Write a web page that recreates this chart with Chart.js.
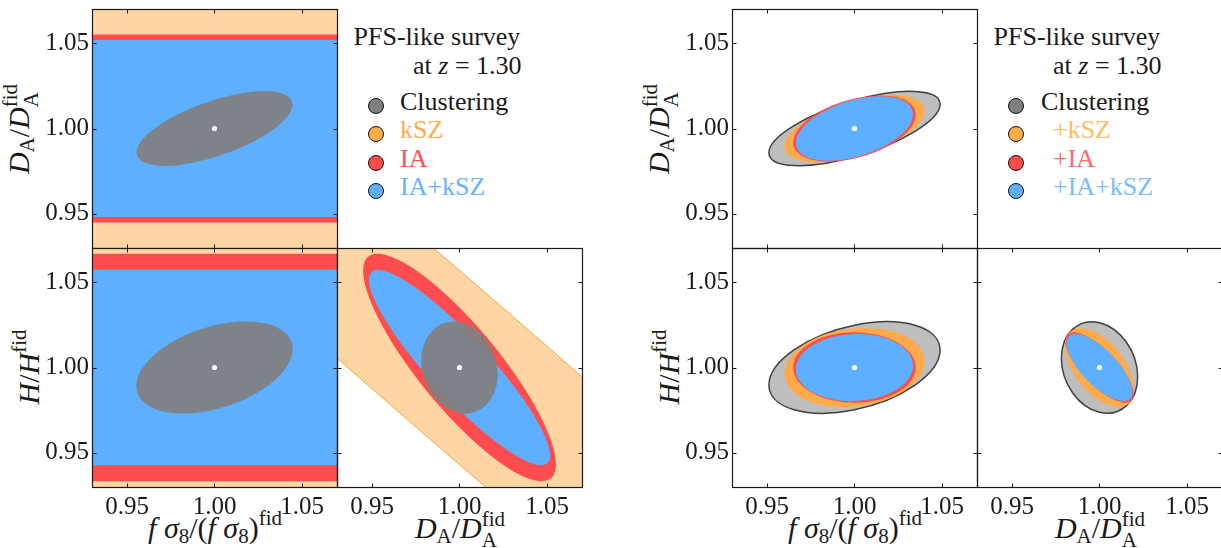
<!DOCTYPE html>
<html>
<head>
<meta charset="utf-8">
<script src="https://cdn.jsdelivr.net/npm/chart.js@4.4.1/dist/chart.umd.min.js"></script>
<style>
  html, body { margin: 0; padding: 0; background: #fff; }
  body { width: 1221px; height: 548px; position: relative; overflow: hidden;
         font-family: 'Liberation Serif', 'Times New Roman', 'DejaVu Serif', serif; color: #1a1a1a; }
  canvas { position: absolute; }
  .lbl { position: absolute; white-space: nowrap; font-size: 30px; line-height: 1; }
  .rot { transform: translate(-50%, -50%) rotate(-90deg); }
  .ctr { transform: translate(-50%, 0); }
  .sub { font-size: 0.7em; position: relative; top: 0.25em; }
  .sup { font-size: 0.7em; position: relative; top: -0.6em; }
  .ss  { display: inline-flex; flex-direction: column; font-size: 0.7em; line-height: 1;
         position: relative; top: -0.55em; }
  .leg { position: absolute; white-space: nowrap; font-size: 26px; line-height: 26px; }
  .dot { position: absolute; width: 16px; height: 16px; border-radius: 50%;
         border: 1px solid #111; box-sizing: border-box; }
</style>
</head>
<body>

<!-- axis titles -->
<div class="lbl rot" style="left:29px; top:129px"><i>D</i><span class="sub">A</span>/<i>D</i><span class="ss"><span>fid</span><span>A</span></span></div>
<div class="lbl rot" style="left:29px; top:367px"><i>H</i>/<i>H</i><span class="sup">fid</span></div>
<div class="lbl ctr" style="left:215px; top:513px"><i>f</i> <i>σ</i><span class="sub">8</span>/(<i>f</i> <i>σ</i><span class="sub">8</span>)<span class="sup">fid</span></div>
<div class="lbl ctr" style="left:460px; top:513px"><i>D</i><span class="sub">A</span>/<i>D</i><span class="ss"><span>fid</span><span>A</span></span></div>

<div class="lbl rot" style="left:669px; top:129px"><i>D</i><span class="sub">A</span>/<i>D</i><span class="ss"><span>fid</span><span>A</span></span></div>
<div class="lbl rot" style="left:669px; top:367px"><i>H</i>/<i>H</i><span class="sup">fid</span></div>
<div class="lbl ctr" style="left:855px; top:513px"><i>f</i> <i>σ</i><span class="sub">8</span>/(<i>f</i> <i>σ</i><span class="sub">8</span>)<span class="sup">fid</span></div>
<div class="lbl ctr" style="left:1100px; top:513px"><i>D</i><span class="sub">A</span>/<i>D</i><span class="ss"><span>fid</span><span>A</span></span></div>

<div id="legends"></div>

<script>
const AXIS_MIN = 0.93;
const AXIS_MAX = 1.07;
const TICK_VALUES = [0.95, 1.00, 1.05];
const TICK_LABELS = ['0.95', '1.00', '1.05'];
const FIDUCIAL = [1.0, 1.0];

// legend order
const LEFT_NAMES  = ['Clustering', 'kSZ', 'IA', 'IA+kSZ'];
const RIGHT_NAMES = ['Clustering', '+kSZ', '+IA', '+IA+kSZ'];

// 1-sigma contours, in legend order: [half-extent x, half-extent y, correlation]
const LEFT_FS8_DA  = [[0.0446, 0.0219, 0.64], [5, 0.5, 0],        [5, 0.0551, 0],       [5, 0.0518, 0]];
const LEFT_FS8_H   = [[0.0447, 0.0270, 0.40], [5, 0.445, 0],      [5, 0.0667, 0],       [5, 0.0572, 0]];
const LEFT_DA_H    = [[0.0219, 0.0270, -0.15], [0.5, 0.445, -0.9918], [0.0551, 0.0667, -0.85], [0.0518, 0.0572, -0.90]];
const RIGHT_FS8_DA = [[0.0489, 0.0218, 0.65], [0.0400, 0.0198, 0.53], [0.0350, 0.0194, 0.42], [0.0335, 0.0189, 0.44]];
const RIGHT_FS8_H  = [[0.0489, 0.0268, 0.38], [0.0400, 0.0232, 0.15], [0.0350, 0.0206, 0.00], [0.0335, 0.0197, 0.05]];
const RIGHT_DA_H   = [[0.0218, 0.0268, -0.20], [0.0198, 0.0231, -0.54], [0.0195, 0.0206, -0.75], [0.0189, 0.0197, -0.72]];

// drawing order (index into legend order)
const LEFT_ORDER  = [1, 2, 3, 0];
const RIGHT_ORDER = [0, 1, 2, 3];

const LEFT_STYLE = [
  { fill: 'rgba(128,128,128,0.93)' },
  { fill: '#fed6a4', stroke: '#f7a441', lw: 1 },
  { fill: '#ff4c4f' },
  { fill: '#5eafff' },
];
const RIGHT_STYLE = [
  { fill: '#bebebe', stroke: '#404040', lw: 1.5 },
  { fill: '#ffab4a' },
  { fill: '#ff4c4f' },
  { fill: '#5eafff' },
];
const LEFT_MARK  = ['#808080', '#ffad47', '#ff4b4b', '#5eb0ff'];
const LEFT_TEXT  = ['#1a1a1a', '#ffab4c', '#ff5050', '#66b3ff'];
const RIGHT_TEXT = ['#1a1a1a', '#ffbb66', '#ff6a6a', '#7abdff'];

const FONT = "'Liberation Serif', 'Times New Roman', 'DejaVu Serif', serif";
const PW = 245, PH = 239;   // plot area size
const M = 4, YW = 60, XH = 34;

const PANELS = [
  { px: 92,  py: 9,   data: LEFT_FS8_DA,  order: LEFT_ORDER,  style: LEFT_STYLE,  showX: false, showY: true  },
  { px: 92,  py: 248, data: LEFT_FS8_H,   order: LEFT_ORDER,  style: LEFT_STYLE,  showX: true,  showY: true  },
  { px: 337, py: 248, data: LEFT_DA_H,    order: LEFT_ORDER,  style: LEFT_STYLE,  showX: true,  showY: false },
  { px: 732, py: 9,   data: RIGHT_FS8_DA, order: RIGHT_ORDER, style: RIGHT_STYLE, showX: false, showY: true  },
  { px: 732, py: 248, data: RIGHT_FS8_H,  order: RIGHT_ORDER, style: RIGHT_STYLE, showX: true,  showY: true  },
  { px: 977, py: 248, data: RIGHT_DA_H,   order: RIGHT_ORDER, style: RIGHT_STYLE, showX: true,  showY: false },
];

const contourPlugin = {
  id: 'contours',
  beforeDatasetsDraw(chart, args, opts) {
    const { ctx, chartArea: a, scales: { x, y } } = chart;
    const cx = x.getPixelForValue(FIDUCIAL[0]);
    const cy = y.getPixelForValue(FIDUCIAL[1]);
    const kx = x.getPixelForValue(FIDUCIAL[0] + 1) - cx;
    const ky = y.getPixelForValue(FIDUCIAL[1] + 1) - cy;
    ctx.save();
    ctx.beginPath();
    ctx.rect(a.left, a.top, a.right - a.left, a.bottom - a.top);
    ctx.clip();
    opts.order.forEach(i => {
      const [sx, sy, rho] = opts.data[i];
      const st = opts.style[i];
      ctx.save();
      ctx.transform(kx * sx, ky * sy * rho, 0, ky * sy * Math.sqrt(1 - rho * rho), cx, cy);
      ctx.beginPath();
      ctx.arc(0, 0, 1, 0, Math.PI * 2);
      ctx.restore();
      ctx.fillStyle = st.fill;
      ctx.fill();
      if (st.stroke) {
        ctx.strokeStyle = st.stroke;
        ctx.lineWidth = st.lw;
        ctx.stroke();
      }
    });
    ctx.restore();
  }
};

const framePlugin = {
  id: 'frame',
  afterDatasetsDraw(chart) {
    const { ctx, chartArea: a, scales: { x, y } } = chart;
    const L = a.left + 0.5, R = a.right + 0.5, T = a.top + 0.5, B = a.bottom + 0.5;
    ctx.save();
    ctx.strokeStyle = '#1a1a1a';
    ctx.lineWidth = 1;
    ctx.beginPath();
    TICK_VALUES.forEach(v => {
      const px = Math.round(x.getPixelForValue(v)) + 0.5;
      const py = Math.round(y.getPixelForValue(v)) + 0.5;
      ctx.moveTo(px, B); ctx.lineTo(px, B - 4);
      ctx.moveTo(px, T); ctx.lineTo(px, T + 4);
      ctx.moveTo(L, py); ctx.lineTo(L + 4, py);
      ctx.moveTo(R, py); ctx.lineTo(R - 4, py);
    });
    ctx.stroke();
    ctx.lineWidth = 1.2;
    ctx.strokeRect(L, T, R - L, B - T);
    ctx.restore();
  }
};

function axis(show, horizontal) {
  return {
    type: 'linear',
    min: AXIS_MIN,
    max: AXIS_MAX,
    display: show,
    grid: { display: false, drawTicks: false },
    border: { display: false },
    afterBuildTicks: s => { s.ticks = TICK_VALUES.map(v => ({ value: v })); },
    afterFit: s => {
      s.paddingTop = 0; s.paddingBottom = 0; s.paddingLeft = 0; s.paddingRight = 0;
      if (!show) return;
      if (horizontal) s.height = XH; else s.width = YW;
    },
    ticks: {
      autoSkip: false,
      maxRotation: 0,
      padding: horizontal ? 5 : 3,
      color: '#1a1a1a',
      font: { family: FONT, size: 25 },
      callback: (v, i) => TICK_LABELS[i],
    },
  };
}

PANELS.forEach(p => {
  const c = document.createElement('canvas');
  const w = PW + 2 * M + (p.showY ? YW : 0);
  const h = PH + 2 * M + (p.showX ? XH : 0);
  c.width = w; c.height = h;
  c.style.left = (p.px - M - (p.showY ? YW : 0)) + 'px';
  c.style.top = (p.py - M) + 'px';
  c.style.width = w + 'px'; c.style.height = h + 'px';
  document.body.appendChild(c);

  new Chart(c, {
    type: 'scatter',
    data: {
      datasets: [{
        data: [{ x: FIDUCIAL[0], y: FIDUCIAL[1] }],
        pointRadius: 2.6,
        backgroundColor: '#ffffff',
        borderWidth: 0,
      }]
    },
    options: {
      responsive: false,
      animation: false,
      devicePixelRatio: 1,
      layout: { padding: M },
      scales: { x: axis(p.showX, true), y: axis(p.showY, false) },
      plugins: {
        legend: { display: false },
        tooltip: { enabled: false },
        contours: { data: p.data, order: p.order, style: p.style },
      }
    },
    plugins: [contourPlugin, framePlugin],
  });
});

// legends
function legend(left, names, textColors, textX) {
  const box = document.getElementById('legends');
  let html = `<div class="leg" style="left:${left + 16.5}px; top:24px">PFS-like survey</div>` +
             `<div class="leg" style="left:${left + 76}px; top:53px">at <i>z</i> = 1.30</div>`;
  names.forEach((n, i) => {
    const cyy = 106 + i * 28.3;
    html += `<div class="dot" style="left:${left + 39 - 8}px; top:${cyy - 8}px; background:${LEFT_MARK[i]}"></div>`;
    html += `<div class="leg" style="left:${left + textX[i]}px; top:${89 + i * 28.3}px; color:${textColors[i]}">${n}</div>`;
  });
  box.insertAdjacentHTML('beforeend', html);
}
legend(337, LEFT_NAMES, LEFT_TEXT, [63, 63, 63, 63]);
legend(977, RIGHT_NAMES, RIGHT_TEXT, [64, 76, 76, 76]);
</script>
</body>
</html>
